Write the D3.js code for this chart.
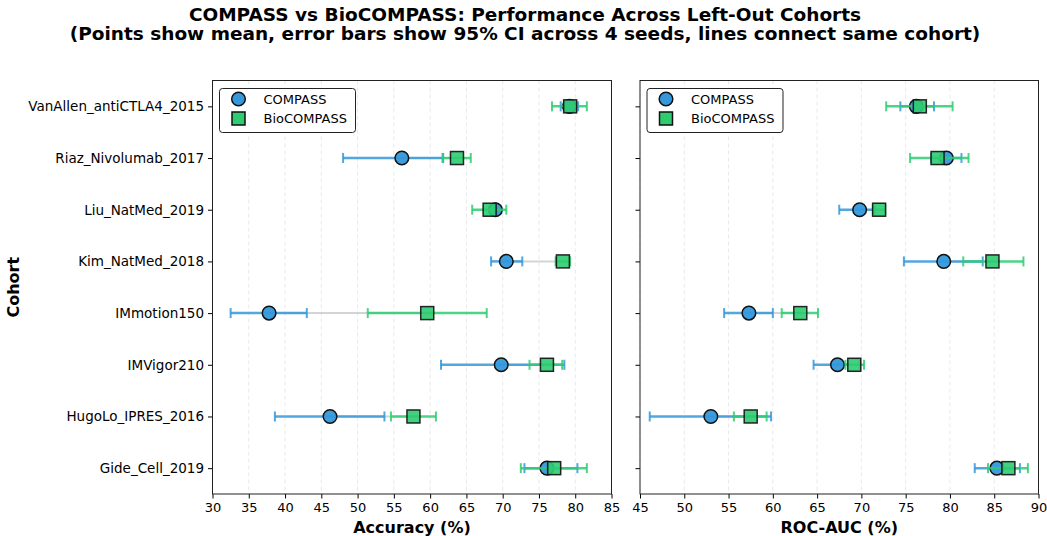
<!DOCTYPE html>
<html>
<head>
<meta charset="utf-8">
<script src="https://cdn.jsdelivr.net/npm/d3@7"></script>
<style>
  body { margin: 0; background: #fff; }
  text { font-family: 'DejaVu Sans', sans-serif; fill: #000; }
</style>
</head>
<body>
<div id="chart"></div>
<script>
const cohorts = [
  'VanAllen_antiCTLA4_2015',
  'Riaz_Nivolumab_2017',
  'Liu_NatMed_2019',
  'Kim_NatMed_2018',
  'IMmotion150',
  'IMVigor210',
  'HugoLo_IPRES_2016',
  'Gide_Cell_2019',
];

// Accuracy (%)
const accCompassMean = [79.2, 56.1, 69.0, 70.5, 37.8, 69.8, 46.2, 76.1];
const accCompassLo = [78.0, 48.0, 68.3, 68.4, 32.5, 61.5, 38.6, 73.0];
const accCompassHi = [80.4, 61.8, 69.7, 72.7, 43.0, 78.5, 53.7, 80.3];
const accBioMean = [79.3, 63.7, 68.2, 78.3, 59.6, 76.1, 57.7, 77.1];
const accBioLo = [76.8, 61.7, 65.8, 77.3, 51.4, 73.7, 54.6, 72.5];
const accBioHi = [81.6, 65.6, 70.5, 79.3, 67.8, 78.2, 60.8, 81.6];

// ROC-AUC (%)
const aucCompassMean = [76.2, 79.6, 69.8, 79.3, 57.3, 67.3, 53.0, 85.3];
const aucCompassLo = [74.4, 77.9, 67.5, 74.8, 54.5, 64.6, 46.1, 82.8];
const aucCompassHi = [78.2, 81.3, 71.5, 83.7, 60.0, 69.8, 59.8, 87.9];
const aucBioMean = [76.6, 78.6, 72.0, 84.8, 63.1, 69.2, 57.5, 86.6];
const aucBioLo = [72.8, 75.5, 71.3, 81.5, 61.0, 68.2, 55.6, 84.3];
const aucBioHi = [80.3, 82.1, 72.7, 88.3, 65.1, 70.3, 59.3, 88.8];

const accTicks = d3.range(30, 86, 5);
const aucTicks = d3.range(45, 91, 5);

const blue = '#3498db';
const green = '#2ecc71';

const width = 1047;
const height = 536;
const plotTop = 80.5;
const plotBottom = 494;

const svg = d3
  .select('#chart')
  .append('svg')
  .attr('width', width)
  .attr('height', height);

// Title
svg
  .append('text')
  .attr('x', 525)
  .attr('y', 20.5)
  .attr('text-anchor', 'middle')
  .style('font-size', '18.5px')
  .style('font-weight', 'bold')
  .text('COMPASS vs BioCOMPASS: Performance Across Left-Out Cohorts');
svg
  .append('text')
  .attr('x', 525)
  .attr('y', 40)
  .attr('text-anchor', 'middle')
  .style('font-size', '18.5px')
  .style('font-weight', 'bold')
  .text('(Points show mean, error bars show 95% CI across 4 seeds, lines connect same cohort)');

const y = d3.scalePoint().domain(cohorts).range([plotTop, plotBottom]).padding(0.5);

function makePanel(x0, x1, domain, ticks, label, cm, clo, chi, bm, blo, bhi, showY) {
  const x = d3.scaleLinear().domain(domain).range([x0, x1]);
  const g = svg.append('g');

  // grid
  g.selectAll('.grid')
    .data(ticks)
    .enter()
    .append('line')
    .attr('x1', (d) => x(d))
    .attr('x2', (d) => x(d))
    .attr('y1', plotTop)
    .attr('y2', plotBottom)
    .attr('stroke', '#b0b0b0')
    .attr('stroke-opacity', 0.35)
    .attr('stroke-dasharray', '4,3')
    .attr('stroke-width', 0.8);

  // x axis
  const xAxis = g
    .append('g')
    .attr('transform', `translate(0,${plotBottom})`)
    .call(d3.axisBottom(x).tickValues(ticks).tickSize(4.5).tickPadding(4));
  xAxis.selectAll('text').style('font-size', '13px').style('font-family', 'DejaVu Sans');
  xAxis.select('.domain').remove();

  // y axis
  const yAxis = g
    .append('g')
    .attr('transform', `translate(${x0},0)`)
    .call(d3.axisLeft(y).tickSize(4.5).tickPadding(4).tickFormat(showY ? (d) => d : () => ''));
  yAxis.selectAll('text').style('font-size', '13.5px').style('font-family', 'DejaVu Sans');
  yAxis.select('.domain').remove();

  // connecting lines
  g.selectAll('.conn')
    .data(cohorts)
    .enter()
    .append('line')
    .attr('x1', (d, i) => x(cm[i]))
    .attr('x2', (d, i) => x(bm[i]))
    .attr('y1', (d) => y(d))
    .attr('y2', (d) => y(d))
    .attr('stroke', '#bdc3c7')
    .attr('stroke-width', 2)
    .attr('stroke-opacity', 0.7);

  function errorbars(mean, lo, hi, color) {
    const eb = g.append('g').attr('stroke', color).attr('stroke-opacity', 0.85);
    eb.selectAll('.bar')
      .data(cohorts)
      .enter()
      .append('line')
      .attr('x1', (d, i) => x(lo[i]))
      .attr('x2', (d, i) => x(hi[i]))
      .attr('y1', (d) => y(d))
      .attr('y2', (d) => y(d))
      .attr('stroke-width', 2.5);
    [lo, hi].forEach((arr) => {
      eb.selectAll(null)
        .data(cohorts)
        .enter()
        .append('line')
        .attr('x1', (d, i) => x(arr[i]))
        .attr('x2', (d, i) => x(arr[i]))
        .attr('y1', (d) => y(d) - 5)
        .attr('y2', (d) => y(d) + 5)
        .attr('stroke-width', 2);
    });
  }

  // COMPASS
  errorbars(cm, clo, chi, blue);
  g.selectAll('.circ')
    .data(cohorts)
    .enter()
    .append('circle')
    .attr('cx', (d, i) => x(cm[i]))
    .attr('cy', (d) => y(d))
    .attr('r', 6.8)
    .attr('fill', blue)
    .attr('fill-opacity', 0.95)
    .attr('stroke', '#111')
    .attr('stroke-width', 1.5);

  // BioCOMPASS
  errorbars(bm, blo, bhi, green);
  g.selectAll('.sq')
    .data(cohorts)
    .enter()
    .append('rect')
    .attr('x', (d, i) => x(bm[i]) - 6.5)
    .attr('y', (d) => y(d) - 6.5)
    .attr('width', 13)
    .attr('height', 13)
    .attr('fill', green)
    .attr('fill-opacity', 0.9)
    .attr('stroke', '#111')
    .attr('stroke-opacity', 0.9)
    .attr('stroke-width', 1.5);

  // frame
  g.append('rect')
    .attr('x', x0)
    .attr('y', plotTop)
    .attr('width', x1 - x0)
    .attr('height', plotBottom - plotTop)
    .attr('fill', 'none')
    .attr('stroke', '#222')
    .attr('stroke-width', 1);

  // x label
  g.append('text')
    .attr('x', (x0 + x1) / 2)
    .attr('y', 533)
    .attr('text-anchor', 'middle')
    .style('font-size', '16px')
    .style('font-weight', 'bold')
    .text(label);

  // legend
  const lg = g.append('g').attr('transform', `translate(${x0 + 7},88.5)`);
  lg.append('rect')
    .attr('width', 136)
    .attr('height', 44)
    .attr('rx', 3)
    .attr('fill', '#fff')
    .attr('fill-opacity', 0.9)
    .attr('stroke', '#222')
    .attr('stroke-width', 1);
  lg.append('circle')
    .attr('cx', 19)
    .attr('cy', 10.5)
    .attr('r', 6.8)
    .attr('fill', blue)
    .attr('stroke', '#111')
    .attr('stroke-width', 1.5);
  lg.append('rect')
    .attr('x', 12.5)
    .attr('y', 23.5)
    .attr('width', 13)
    .attr('height', 13)
    .attr('fill', green)
    .attr('stroke', '#111')
    .attr('stroke-width', 1.5);
  lg.append('text').attr('x', 44).attr('y', 15).style('font-size', '13px').text('COMPASS');
  lg.append('text').attr('x', 44).attr('y', 34.5).style('font-size', '13px').text('BioCOMPASS');
}

makePanel(212.5, 611.5, [30, 85], accTicks, 'Accuracy (%)',
  accCompassMean, accCompassLo, accCompassHi, accBioMean, accBioLo, accBioHi, true);
makePanel(640, 1038.5, [45, 90], aucTicks, 'ROC-AUC (%)',
  aucCompassMean, aucCompassLo, aucCompassHi, aucBioMean, aucBioLo, aucBioHi, false);

// y label
svg
  .append('text')
  .attr('transform', `translate(19,${(plotTop + plotBottom) / 2}) rotate(-90)`)
  .attr('text-anchor', 'middle')
  .style('font-size', '16px')
  .style('font-weight', 'bold')
  .text('Cohort');
</script>
</body>
</html>
